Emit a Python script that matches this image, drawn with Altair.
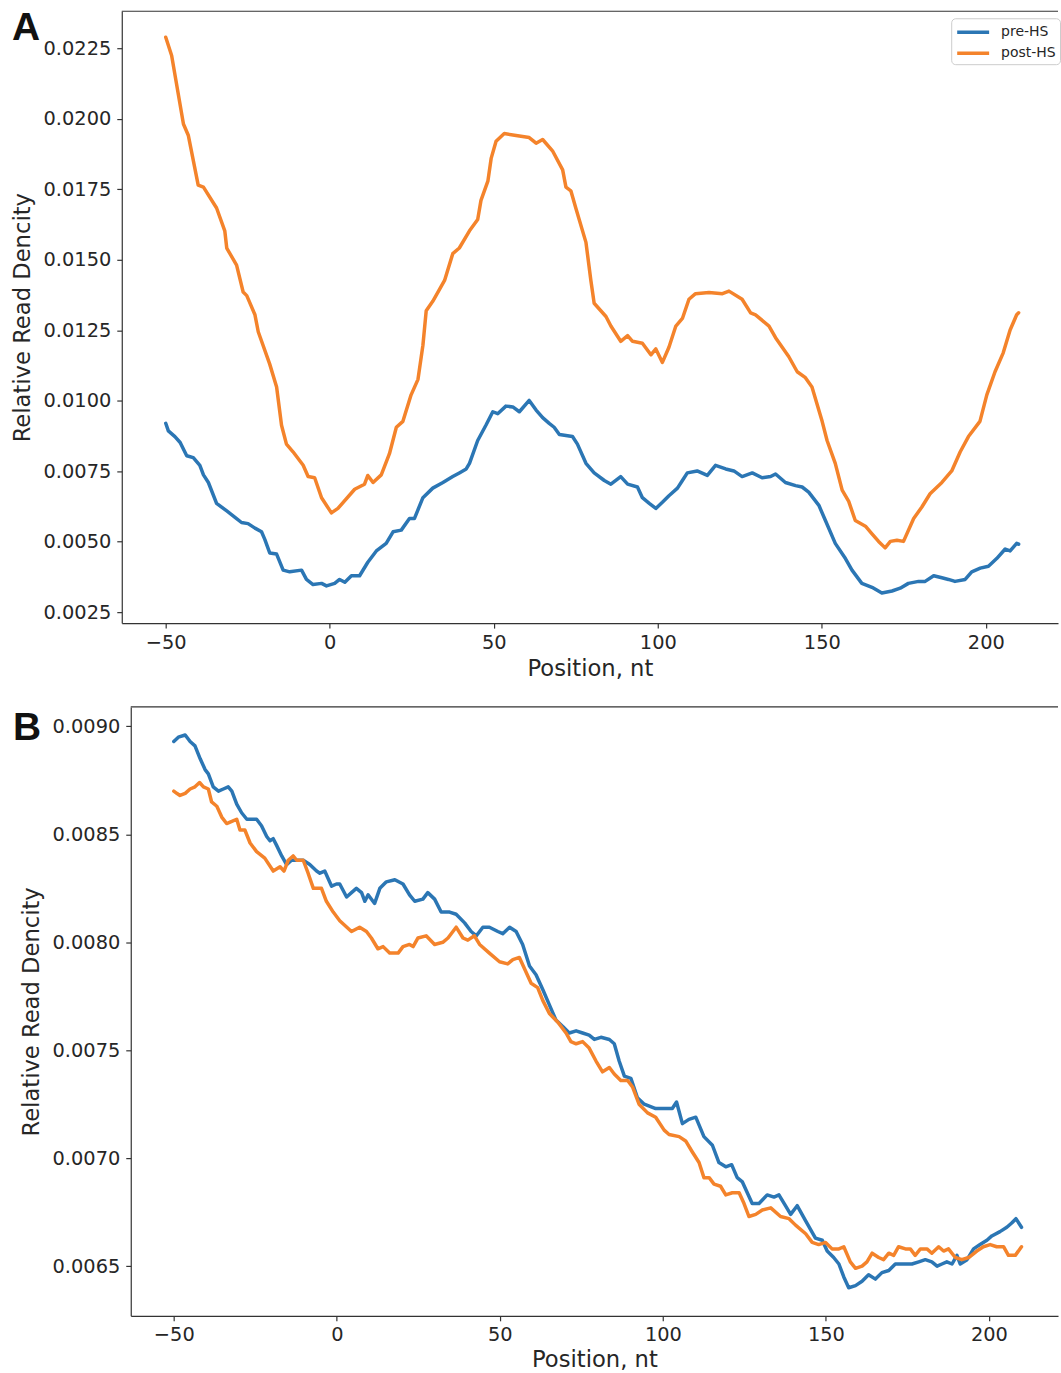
import altair as alt
import pandas as pd

FONT = "DejaVu Sans"
TEXT = "#262626"
SPINE = "#333333"
BLUE = "#2b76b4"
ORANGE = "#f4832b"
SERIES = ["pre-HS", "post-HS"]
X_TICKS = [-50, 0, 50, 100, 150, 200]

# Panel A: (position, relative read density)
A_PRE = [
    (-50, 0.00920), (-49.2, 0.00893), (-47.2, 0.00873), (-45.6, 0.00852), (-43.6, 0.00805),
    (-41.6, 0.00798), (-39.6, 0.00771), (-38.5, 0.00737), (-37.0, 0.00710), (-34.5, 0.00636),
    (-31.4, 0.00609), (-28.4, 0.00582), (-26.9, 0.00568), (-24.9, 0.00564), (-22.8, 0.00548),
    (-20.8, 0.00535), (-19.8, 0.00508), (-18.3, 0.00460), (-16.2, 0.00456), (-14.2, 0.00399),
    (-12.2, 0.00393), (-8.6, 0.00399), (-7.1, 0.00366), (-5.1, 0.00348), (-2.5, 0.00352),
    (-1.0, 0.00343), (1.5, 0.00352), (3.0, 0.00366), (4.6, 0.00356), (6.6, 0.00379),
    (9.1, 0.00379), (11.6, 0.00427), (14.2, 0.00467), (17.2, 0.00494), (19.3, 0.00535),
    (21.8, 0.00541), (24.3, 0.00582), (25.8, 0.00582), (28.4, 0.00656), (31.4, 0.00690),
    (34.5, 0.00710), (37.5, 0.00731), (39.5, 0.00744), (41.6, 0.00758), (42.6, 0.00778),
    (45.1, 0.00859), (47.6, 0.00913), (49.7, 0.00961), (51.2, 0.00954), (53.7, 0.00981),
    (55.8, 0.00978), (57.8, 0.00961), (60.8, 0.01001), (62.9, 0.00967), (64.9, 0.00940),
    (66.9, 0.00920), (68.4, 0.00906), (70.0, 0.00880), (74.0, 0.00873), (75.5, 0.00846),
    (78.1, 0.00778), (80.6, 0.00744), (83.7, 0.00717), (85.7, 0.00704), (88.7, 0.00731),
    (90.8, 0.00704), (93.8, 0.00694), (95.3, 0.00656), (97.4, 0.00636), (99.4, 0.00618),
    (101.4, 0.00640), (103.4, 0.00663), (106.0, 0.00690), (107.5, 0.00717), (109.0, 0.00744),
    (112.0, 0.00751), (115.1, 0.00735), (117.6, 0.00771), (120.7, 0.00758), (123.2, 0.00751),
    (125.7, 0.00731), (128.8, 0.00744), (131.8, 0.00727), (134.4, 0.00731), (135.9, 0.00740),
    (138.9, 0.00710), (142.0, 0.00699), (144.0, 0.00694), (146.0, 0.00676), (149.1, 0.00629),
    (151.1, 0.00575), (154.1, 0.00494), (157.2, 0.00440), (159.2, 0.00399), (162.2, 0.00352),
    (165.3, 0.00338), (168.3, 0.00318), (171.4, 0.00325), (173.9, 0.00335), (176.4, 0.00352),
    (179.5, 0.00359), (181.5, 0.00359), (184.1, 0.00379), (186.6, 0.00372), (188.6, 0.00366),
    (190.6, 0.00359), (193.7, 0.00366), (195.7, 0.00393), (198.3, 0.00406), (200.8, 0.00413),
    (203.3, 0.00440), (205.9, 0.00474), (207.4, 0.00467), (209.4, 0.00494), (210.0, 0.00491),
]

A_POST = [
    (-50, 0.02290), (-48.2, 0.02225), (-44.6, 0.01982), (-43.1, 0.01941), (-40.1, 0.01765),
    (-38.5, 0.01758), (-34.5, 0.01684), (-32.0, 0.01603), (-31.4, 0.01542), (-28.4, 0.01481),
    (-26.4, 0.01386), (-25.3, 0.01373), (-22.8, 0.01305), (-21.8, 0.01245), (-18.3, 0.01130),
    (-16.2, 0.01049), (-14.7, 0.00913), (-13.2, 0.00846), (-11.2, 0.00819), (-8.1, 0.00771),
    (-6.6, 0.00731), (-4.6, 0.00727), (-2.5, 0.00656), (0.5, 0.00602), (2.5, 0.00618),
    (7.6, 0.00686), (10.6, 0.00704), (11.6, 0.00735), (13.2, 0.00710), (15.7, 0.00737),
    (18.2, 0.00812), (20.3, 0.00906), (22.3, 0.00927), (24.8, 0.01021), (26.9, 0.01076),
    (28.4, 0.01197), (29.4, 0.01319), (31.4, 0.01353), (35.0, 0.01427), (37.5, 0.01522),
    (39.5, 0.01542), (42.6, 0.01603), (45.1, 0.01643), (46.1, 0.01711), (48.2, 0.01779),
    (49.2, 0.01860), (50.7, 0.01921), (53.2, 0.01948), (56.8, 0.01941), (60.8, 0.01934),
    (62.9, 0.01914), (64.9, 0.01927), (67.9, 0.01887), (71.0, 0.01819), (72.0, 0.01758),
    (73.5, 0.01745), (75.0, 0.01684), (78.1, 0.01562), (79.6, 0.01427), (80.6, 0.01346),
    (84.2, 0.01299), (85.7, 0.01265), (88.7, 0.01211), (90.8, 0.01231), (92.3, 0.01211),
    (95.3, 0.01204), (97.9, 0.01163), (99.4, 0.01184), (101.4, 0.01136), (103.4, 0.01190),
    (105.5, 0.01265), (107.5, 0.01292), (109.5, 0.01360), (111.5, 0.01380), (115.6, 0.01384),
    (119.7, 0.01380), (121.7, 0.01389), (125.7, 0.01360), (128.3, 0.01312), (129.8, 0.01305),
    (133.9, 0.01265), (135.9, 0.01224), (139.9, 0.01157), (142.5, 0.01103), (145.0, 0.01082),
    (147.0, 0.01049), (150.1, 0.00927), (151.6, 0.00859), (154.1, 0.00778), (156.2, 0.00683),
    (158.2, 0.00643), (160.2, 0.00575), (163.3, 0.00555), (165.3, 0.00528), (167.3, 0.00501),
    (169.3, 0.00478), (170.9, 0.00501), (172.9, 0.00505), (174.9, 0.00501), (178.0, 0.00582),
    (180.5, 0.00623), (183.0, 0.00670), (186.6, 0.00710), (189.6, 0.00751), (192.2, 0.00819),
    (194.7, 0.00873), (198.2, 0.00927), (200.3, 0.01021), (202.8, 0.01103), (205.3, 0.01170),
    (207.4, 0.01251), (209.4, 0.01305), (210.0, 0.01312),
]

# Panel B: (position, relative read density)
B_PRE = [
    (-50, 0.00893), (-48.6, 0.00895), (-46.5, 0.00896), (-45.0, 0.00893), (-43.5, 0.00891),
    (-41.9, 0.00885), (-40.4, 0.00880), (-39.4, 0.00878), (-37.9, 0.00872), (-36.3, 0.00870),
    (-34.8, 0.00871), (-33.3, 0.00872), (-32.2, 0.00870), (-30.7, 0.00864), (-29.2, 0.00860),
    (-27.6, 0.00857), (-26.1, 0.00857), (-24.6, 0.00857), (-23.1, 0.00854), (-21.5, 0.00849),
    (-20.5, 0.00847), (-19.5, 0.00848), (-18.5, 0.00845), (-16.9, 0.00840), (-15.4, 0.00836),
    (-13.9, 0.00838), (-12.3, 0.00838), (-10.3, 0.00838), (-8.3, 0.00836), (-6.2, 0.00833),
    (-5.2, 0.00832), (-3.7, 0.00833), (-1.6, 0.00826), (-0.1, 0.00827), (0.9, 0.00827),
    (3.0, 0.00821), (4.5, 0.00823), (6.0, 0.00825), (7.6, 0.00823), (8.6, 0.00819),
    (9.6, 0.00822), (11.6, 0.00818), (13.2, 0.00825), (15.2, 0.00828), (17.8, 0.00829),
    (20.3, 0.00827), (22.3, 0.00822), (23.9, 0.00819), (26.4, 0.00820), (27.9, 0.00823),
    (30.0, 0.00820), (32.0, 0.00814), (34.6, 0.00814), (36.6, 0.00813), (39.2, 0.00809),
    (41.2, 0.00805), (42.8, 0.00803), (44.8, 0.00807), (46.8, 0.00807), (49.4, 0.00805),
    (50.9, 0.00804), (53.0, 0.00807), (55.0, 0.00805), (57.0, 0.00799), (59.1, 0.00789),
    (61.1, 0.00785), (63.2, 0.00778), (65.2, 0.00771), (67.2, 0.00764), (69.3, 0.00761),
    (71.3, 0.00758), (73.4, 0.00759), (75.4, 0.00758), (77.4, 0.00757), (79.0, 0.00755),
    (81.0, 0.00756), (83.6, 0.00755), (85.1, 0.00753), (86.6, 0.00745), (88.2, 0.00738),
    (90.2, 0.00737), (92.2, 0.00728), (94.3, 0.00725), (97.8, 0.00723), (101.4, 0.00723),
    (102.9, 0.00723), (104.2, 0.00726), (106.0, 0.00716), (108.0, 0.00718), (110.1, 0.00719),
    (112.6, 0.00710), (115.2, 0.00706), (117.2, 0.00698), (119.3, 0.00696), (121.1, 0.00697),
    (122.8, 0.00691), (124.4, 0.00689), (127.4, 0.00679), (129.5, 0.00679), (132.0, 0.00683),
    (134.1, 0.00682), (135.6, 0.00683), (137.6, 0.00678), (139.2, 0.00674), (141.2, 0.00678),
    (143.8, 0.00671), (146.8, 0.00663), (148.9, 0.00662), (150.4, 0.00657), (152.4, 0.00654),
    (154.0, 0.00651), (155.5, 0.00645), (157.0, 0.00640), (159.1, 0.00641), (161.1, 0.00643),
    (163.1, 0.00646), (165.2, 0.00644), (167.2, 0.00647), (169.3, 0.00648), (171.3, 0.00651),
    (173.9, 0.00651), (176.4, 0.00651), (178.5, 0.00652), (180.5, 0.00653), (182.5, 0.00652),
    (184.1, 0.00650), (185.6, 0.00651), (187.1, 0.00652), (188.7, 0.00651), (190.2, 0.00655),
    (191.2, 0.00651), (193.3, 0.00653), (195.3, 0.00658), (197.3, 0.00660), (199.4, 0.00662),
    (200.9, 0.00664), (203.4, 0.00666), (205.5, 0.00668), (207.0, 0.00670), (208.3, 0.00672),
    (210.0, 0.00668),
]

B_POST = [
    (-50, 0.00870), (-49.1, 0.00869), (-48.1, 0.00868), (-46.5, 0.00869), (-45.0, 0.00871),
    (-43.5, 0.00872), (-42.1, 0.00874), (-40.9, 0.00872), (-39.4, 0.00871), (-38.4, 0.00865),
    (-36.8, 0.00863), (-35.3, 0.00858), (-33.8, 0.00855), (-32.2, 0.00856), (-30.7, 0.00857),
    (-29.7, 0.00852), (-28.2, 0.00852), (-26.6, 0.00846), (-24.6, 0.00842), (-22.1, 0.00839),
    (-19.5, 0.00833), (-17.4, 0.00835), (-16.2, 0.00833), (-14.9, 0.00838), (-13.4, 0.00840),
    (-12.3, 0.00838), (-10.3, 0.00838), (-8.8, 0.00832), (-7.2, 0.00825), (-4.7, 0.00825),
    (-3.2, 0.00819), (-1.1, 0.00814), (0.9, 0.00810), (4.5, 0.00805), (7.0, 0.00807),
    (9.1, 0.00805), (10.6, 0.00802), (12.6, 0.00797), (14.2, 0.00798), (16.2, 0.00795),
    (18.8, 0.00795), (20.3, 0.00798), (22.3, 0.00799), (23.4, 0.00798), (24.9, 0.00802),
    (27.4, 0.00803), (30.0, 0.00799), (32.5, 0.00800), (34.1, 0.00802), (36.6, 0.00807),
    (38.7, 0.00802), (40.2, 0.00801), (42.2, 0.00803), (43.8, 0.00799), (46.8, 0.00795),
    (49.9, 0.00791), (52.4, 0.00790), (54.0, 0.00792), (56.0, 0.00793), (57.5, 0.00788),
    (59.6, 0.00781), (61.6, 0.00779), (63.2, 0.00773), (65.2, 0.00767), (67.8, 0.00763),
    (70.3, 0.00758), (71.8, 0.00754), (73.4, 0.00753), (75.4, 0.00754), (77.4, 0.00751),
    (79.5, 0.00745), (81.5, 0.00740), (83.6, 0.00742), (85.1, 0.00739), (87.1, 0.00736),
    (89.2, 0.00736), (90.7, 0.00733), (92.7, 0.00725), (95.3, 0.00721), (97.8, 0.00719),
    (100.4, 0.00713), (101.9, 0.00711), (105.0, 0.00710), (107.0, 0.00708), (109.0, 0.00703),
    (111.1, 0.00698), (112.6, 0.00691), (114.2, 0.00691), (115.7, 0.00688), (117.7, 0.00687),
    (119.3, 0.00683), (121.3, 0.00684), (123.4, 0.00684), (124.9, 0.00679), (126.4, 0.00673),
    (128.5, 0.00674), (130.5, 0.00676), (133.1, 0.00677), (136.1, 0.00673), (138.7, 0.00672),
    (140.7, 0.00669), (143.8, 0.00665), (145.8, 0.00661), (147.8, 0.00660), (149.9, 0.00661),
    (151.9, 0.00658), (154.0, 0.00658), (155.5, 0.00659), (157.5, 0.00652), (159.1, 0.00649),
    (161.1, 0.00650), (162.6, 0.00652), (164.2, 0.00656), (166.2, 0.00654), (167.7, 0.00653),
    (169.3, 0.00656), (170.8, 0.00655), (172.3, 0.00659), (174.4, 0.00658), (175.9, 0.00658),
    (177.4, 0.00655), (179.0, 0.00658), (181.0, 0.00658), (182.5, 0.00656), (184.6, 0.00659),
    (186.1, 0.00657), (187.6, 0.00658), (189.7, 0.00654), (191.7, 0.00653), (193.8, 0.00654),
    (196.3, 0.00657), (198.3, 0.00659), (200.4, 0.00660), (202.4, 0.00659), (204.5, 0.00659),
    (206.0, 0.00655), (208.1, 0.00655), (210.0, 0.00659),
]

A_Y_TICKS = [0.0025, 0.0050, 0.0075, 0.0100, 0.0125, 0.0150, 0.0175, 0.0200, 0.0225]
B_Y_TICKS = [0.0065, 0.0070, 0.0075, 0.0080, 0.0085, 0.0090]

WIDTH = 938


def to_frame(pre, post):
    rows = [(p, v, "pre-HS") for p, v in pre] + [(p, v, "post-HS") for p, v in post]
    return pd.DataFrame(rows, columns=["pos", "val", "series"])


def panel(pre, post, letter, x_dom, y_dom, y_ticks, height, inset,
          letter_x, letter_y, legend_x, legend_y, label_pad_x, title_pad_x):
    df = to_frame(pre, post)
    color = alt.Color(
        "series:N",
        scale=alt.Scale(domain=SERIES, range=[BLUE, ORANGE]),
        legend=alt.Legend(
            title=None, orient="none", legendX=legend_x, legendY=legend_y,
            symbolType="M-2,0L2,0", symbolSize=256, symbolStrokeWidth=3.5,
            symbolOffset=8, labelOffset=18, rowPadding=4, padding=4,
            labelFont=FONT, labelFontSize=14, labelColor=TEXT,
            fillColor="white", strokeColor="#cccccc", cornerRadius=4,
        ),
    )
    x = alt.X("pos:Q",
              scale=alt.Scale(domain=x_dom, range=[inset, WIDTH], nice=False, zero=False),
              axis=alt.Axis(values=X_TICKS, title="Position, nt",
                            labelPadding=label_pad_x, titlePadding=title_pad_x))
    y = alt.Y("val:Q", scale=alt.Scale(domain=y_dom, nice=False, zero=False),
              axis=alt.Axis(values=y_ticks, format=".4f", title="Relative Read Dencity",
                            offset=-inset))
    base = alt.Chart(df)
    lines = [
        base.transform_filter(alt.datum.series == s)
        .mark_line(strokeWidth=3.5, strokeJoin="round", strokeCap="round")
        .encode(x=x, y=y, color=color)
        for s in SERIES
    ]
    top_spine = alt.Chart(pd.DataFrame({"k": [0]})).mark_rule(
        color=SPINE, strokeWidth=1.2
    ).encode(x=alt.value(inset), x2=alt.value(WIDTH), y=alt.value(0))
    tag = alt.Chart(pd.DataFrame({"t": [letter]})).mark_text(
        font="Liberation Sans", fontWeight="bold", fontSize=39, color="#111111",
        align="left", baseline="alphabetic",
    ).encode(text="t:N", x=alt.value(letter_x), y=alt.value(letter_y))
    return alt.layer(*lines, top_spine, tag).properties(width=WIDTH, height=height)


panel_a = panel(A_PRE, A_POST, "A", [-63.4, 222.0], [0.00211, 0.02382], A_Y_TICKS,
                613, 0, -110, 29, 831, 7, 5, 6)
panel_b = panel(B_PRE, B_POST, "B", [-63.2, 221.2], [0.00627, 0.00909], B_Y_TICKS,
                610, 9, -109, 33, 833, 7, 5, 4)

chart = alt.ConcatChart(
    concat=[panel_a, panel_b], columns=1, spacing=25,
    padding={"left": 11, "top": 8, "right": 0, "bottom": 0},
).configure_view(stroke=None).configure_axis(
    grid=False,
    labelFont=FONT, labelFontSize=19.4, labelColor=TEXT, labelPadding=6,
    titleFont=FONT, titleFontSize=22.7, titleFontWeight="normal", titleColor=TEXT,
    tickSize=5, tickColor=SPINE, tickWidth=1.2,
    domainColor=SPINE, domainWidth=1.2,
).configure_axisY(titlePadding=9)

chart.save("out.html", embed_options={"renderer": "svg", "actions": False})
